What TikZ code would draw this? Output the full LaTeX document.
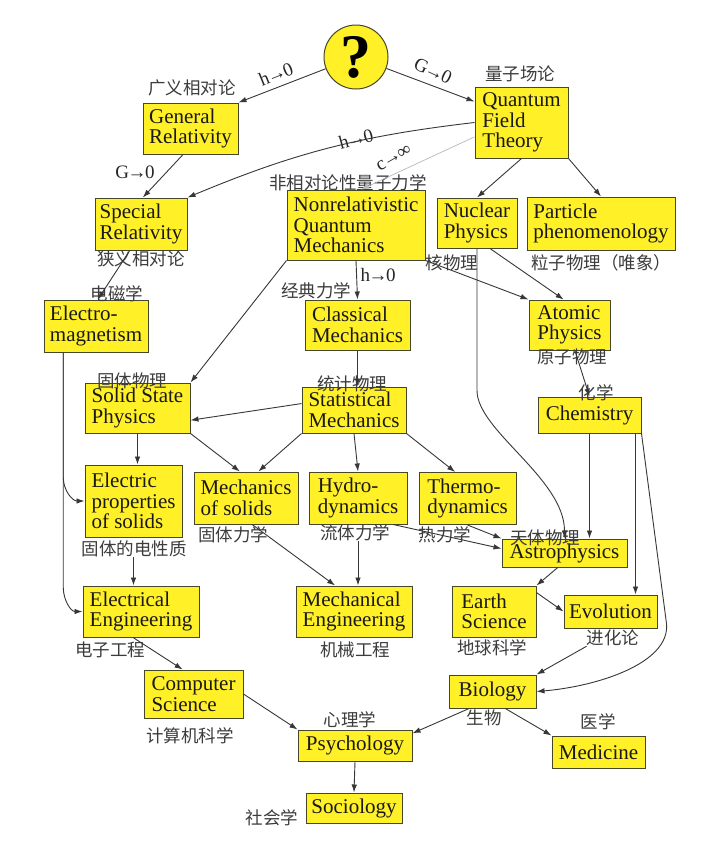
\documentclass[tikz,border=0pt]{standalone}
\usepackage{fontspec}
\setmainfont{Liberation Serif}
\newfontfamily\cjk{Noto Sans CJK SC}
\usetikzlibrary{arrows.meta}
\definecolor{boxyellow}{RGB}{255,240,40}
\definecolor{edgegray}{RGB}{55,55,55}
\definecolor{cjkgray}{RGB}{60,60,60}
\definecolor{boxborder}{RGB}{70,70,40}
\newcommand{\toarr}{\kern-1.5pt→\kern-1.5pt}
\begin{document}
\begin{tikzpicture}[x=1pt,y=1pt,
  box/.style={draw=boxborder, line width=1pt, fill=boxyellow, align=left, inner sep=0pt,
    font=\fontsize{21}{20.5}\selectfont, text=black!90},
  cn/.style={font=\cjk\fontsize{17.5}{17.5}\selectfont, text=cjkgray, inner sep=0pt},
  lbl/.style={font=\fontsize{19}{19}\selectfont, text=black!85, inner sep=0pt},
  arr/.style={draw=edgegray, line width=0.9pt, -{Latex[length=8pt,width=5.5pt]}},
]
\useasboundingbox (0,0) rectangle (720,-849);
\fill[white] (0,0) rectangle (720,-849);

% top circle
\node[circle, draw=boxborder, line width=1pt, fill=boxyellow, minimum size=64pt, inner sep=0pt] (q) at (356,-57)
  {\fontsize{62}{62}\selectfont\bfseries ?};

% boxes
\node[box, minimum width=95pt,  minimum height=51pt] (gr)   at (190.5,-128.5) {General\\Relativity};
\node[box, minimum width=93pt,  minimum height=71pt] (qft)  at (521.5,-122.5) {Quantum\\Field\\Theory};
\node[box, minimum width=92pt,  minimum height=52pt] (sr)   at (141,-224) {Special\\Relativity};
\node[box, minimum width=138pt, minimum height=70pt] (nrqm) at (356,-225) {Nonrelativistic\\Quantum\\Mechanics};
\node[box, minimum width=80pt,  minimum height=50pt] (nuc)  at (477,-223) {Nuclear\\Physics};
\node[box, minimum width=148pt, minimum height=53pt] (part) at (601,-223.5) {Particle\\phenomenology};
\node[box, minimum width=104pt, minimum height=52pt] (em)   at (96,-326) {Electro-\\magnetism};
\node[box, minimum width=105pt, minimum height=50pt] (cm)   at (357.5,-325) {Classical\\Mechanics};
\node[box, minimum width=81pt,  minimum height=50pt] (atom) at (569.5,-325) {Atomic\\Physics};
\node[box, minimum width=105pt, minimum height=50pt] (ssp)  at (137.5,-408) {Solid State\\Physics};
\node[box, minimum width=104pt, minimum height=46pt] (sm)   at (354,-410) {Statistical\\Mechanics};
\node[box, minimum width=103pt, minimum height=36pt] (chem) at (589.5,-415) {Chemistry};
\node[box, minimum width=97pt,  minimum height=72pt] (ep)   at (133.5,-501) {Electric\\properties\\of solids};
\node[box, minimum width=104pt, minimum height=52pt] (ms)   at (246,-498) {Mechanics\\of solids};
\node[box, minimum width=98pt,  minimum height=52pt] (hy)   at (358,-498) {Hydro-\\dynamics};
\node[box, minimum width=97pt,  minimum height=52pt] (th)   at (467.5,-498.5) {Thermo-\\dynamics};
\node[box, minimum width=125pt, minimum height=28pt] (astro) at (564.5,-553) {Astrophysics};
\node[box, minimum width=116pt, minimum height=51pt] (ee)   at (141,-611.5) {Electrical\\Engineering};
\node[box, minimum width=116pt, minimum height=51pt] (me)   at (354,-611.5) {Mechanical\\Engineering};
\node[box, minimum width=84pt,  minimum height=51pt] (earth) at (494,-611.5) {Earth\\Science};
\node[box, minimum width=93pt,  minimum height=33pt] (evo)  at (610.5,-611.5) {Evolution};
\node[box, minimum width=99pt,  minimum height=48pt] (cs)   at (193.5,-694) {Computer\\Science};
\node[box, minimum width=87pt,  minimum height=33pt] (bio)  at (492.5,-691.5) {Biology};
\node[box, minimum width=114pt, minimum height=31pt] (psy)  at (355,-745.5) {Psychology};
\node[box, minimum width=93pt,  minimum height=32pt] (med)  at (598.5,-752) {Medicine};
\node[box, minimum width=96pt,  minimum height=30pt] (soc)  at (354,-808) {Sociology};

% Chinese labels
\node[cn] (grl)    at (192,-88)  {广义相对论};
\node[cn] (qftl)   at (520,-74)  {量子场论};
\node[cn] (nrqml)  at (348,-183) {非相对论性量子力学};
\node[cn] (srl)    at (141,-259) {狭义相对论};
\node[cn] (nucl)   at (452,-263) {核物理};
\node[cn] (partl)  at (601,-263) {粒子物理（唯象）};
\node[cn] (eml)    at (117,-294) {电磁学};
\node[cn] (cml)    at (316,-291) {经典力学};
\node[cn] (atoml)  at (572,-357) {原子物理};
\node[cn] (sspl)   at (132,-381) {固体物理};
\node[cn] (sml)    at (352,-384) {统计物理};
\node[cn] (cheml)  at (596,-393) {化学};
\node[cn] (msl)    at (233,-535) {固体力学};
\node[cn] (hyl)    at (355,-533) {流体力学};
\node[cn] (thl)    at (445,-535) {热力学};
\node[cn] (astrol) at (545,-538) {天体物理};
\node[cn] (epl)    at (134,-549) {固体的电性质};
\node[cn] (eel)    at (110,-650) {电子工程};
\node[cn] (mel)    at (355,-650) {机械工程};
\node[cn] (earthl) at (492,-648) {地球科学};
\node[cn] (evol)   at (613,-638) {进化论};
\node[cn] (biol)   at (484,-718) {生物};
\node[cn] (psyl)   at (350,-720) {心理学};
\node[cn] (medl)   at (598,-722) {医学};
\node[cn] (csl)    at (190,-736) {计算机科学};
\node[cn] (socl)   at (272,-818) {社会学};

% edge labels
\node[lbl, rotate=22]  (l1) at (276,-74)  {h\toarr0};
\node[lbl, rotate=-25] (l2) at (433,-71)  {G\toarr0};
\node[lbl, rotate=15]  (l3) at (356,-139) {h\toarr0};
\node[lbl, rotate=30]  (l4) at (394,-158) {c\toarr∞};
\node[lbl]             (l5) at (135,-172) {G\toarr0};
\node[lbl]             (l6) at (378,-275) {h\toarr0};

% connectors
\draw[arr] (q) -- (gr.north east);
\draw[arr] (q) -- (qft.156);
\draw[arr] (gr.254) -- (sr.86);
\draw[arr] (qft.west) to[bend right=8] (sr.north east);
\draw[arr, draw=gray!55, line width=0.7pt] (qft.197) -- (nrqm.82);
\draw[arr] (qft.south) -- (nuc.north);
\draw[arr] (qft.south east) -- (part.north);
\draw[arr] (sr.247) -- (em.86);
\draw[arr] (nrqm.south) -- (cm.north);
\draw[arr] (nrqm.south west) -- (ssp.north east);
\draw[arr] (nrqm.south east) -- (atom.north west);
\draw[arr] (nuc.297) -- (atom.103);
\draw[arr] (nuc.south) -- ++(0,-142) .. controls +(0,-40) and +(0,60) .. (astro.north);
\draw[arr] (atom.282) -- (chem.north);
\draw[arr] (cm.south) -- (cm.south |- sm.north);
\draw[arr] (sm.173) -- (ssp.347);
\draw[arr] (ssp.south) -- (ssp.south |- ep.north);
\draw[arr] (ssp.south east) -- (ms.103);
\draw[arr] (sm.south west) -- (ms.65);
\draw[arr] (sm.south) -- (hy.north);
\draw[arr] (sm.south east) -- (th.115);
\draw[arr] (em.219) -- ++(0,-125) to[out=-90,in=180] (ep.west);
\draw[arr] (em.219) -- ++(0,-235) to[out=-90,in=180] (ee.west);
\draw[arr] (epl.south -| ep.south) -- (ep.south |- ee.north);
\draw[arr] (ms.283) -- (me.126);
\draw[arr] (hyl.south -| hy.south) -- (hy.south |- me.north);
\draw[arr] (hy.323) -- (astro.176);
\draw[arr] (th.south) -- (astro.north west);
\draw[arr] (chem.south) -- (chem.south |- astro.north);
\draw[arr] ([xshift=46pt]chem.south) -- ([xshift=46pt]chem.south |- evo.north);
\draw[arr] (chem.south east) -- ++(25,-190) .. controls +(4,-40) and +(60,5) .. (bio.east);
\draw[arr] (astro.245) -- (earth.north east);
\draw[arr] (earth.24) -- (evo.west);
\draw[arr] (evol.south west) -- (bio.north east);
\draw[arr] (bio.216) -- (psy.12);
\draw[arr] (bio.307) -- (med.north west);
\draw[arr] (cs.east) -- (psy.north west);
\draw[arr] (psy.south) -- (soc.north);
\draw[arr] (ee.253) -- (cs.114);
\end{tikzpicture}
\end{document}
